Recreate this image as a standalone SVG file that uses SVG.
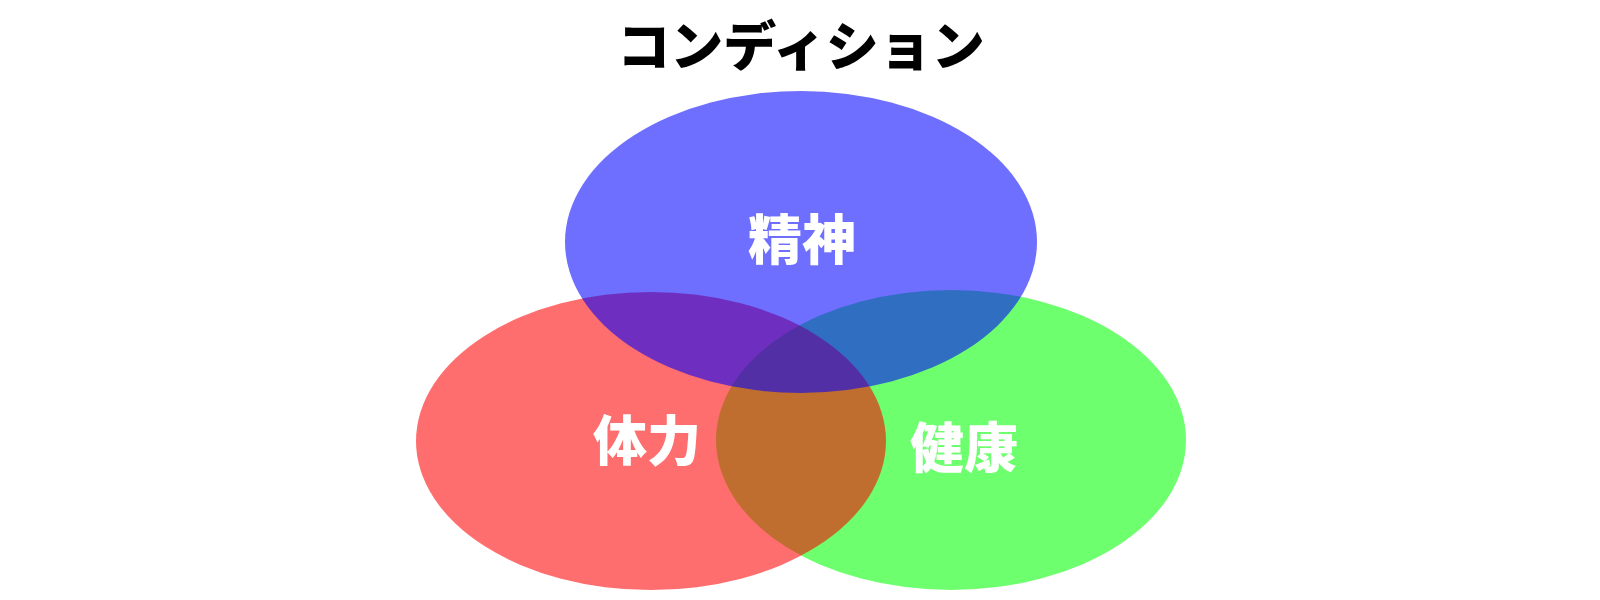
<svg xmlns="http://www.w3.org/2000/svg" width="1600" height="600" viewBox="0 0 1600 600">
<style>
.t{font-family:"Noto Sans CJK JP","Noto Sans",sans-serif;font-weight:900;text-anchor:middle;dominant-baseline:central}
.lbl{font-size:54px;fill:#ffffff}
.title{font-size:53px;fill:#000000}
.e{fill-opacity:0.57}
</style>
<rect width="1600" height="600" fill="#ffffff"/>
<g id="title"><text class="t title" x="801" y="43">コンディション</text></g>
<g id="kenkou"><ellipse class="e" cx="951" cy="440" rx="235" ry="150" fill="#00ff00"/></g>
<g id="tairyoku"><ellipse class="e" cx="651" cy="441" rx="235" ry="149" fill="#ff0000"/></g>
<g id="seishin"><ellipse class="e" cx="801" cy="242" rx="236" ry="151" fill="#0000ff"/></g>
<g id="labels">
<text class="t lbl" x="802" y="236">精神</text>
<text class="t lbl" x="647" y="437">体力</text>
<text class="t lbl" x="964" y="444">健康</text>
</g>
<g id="connectors"></g>
</svg>
